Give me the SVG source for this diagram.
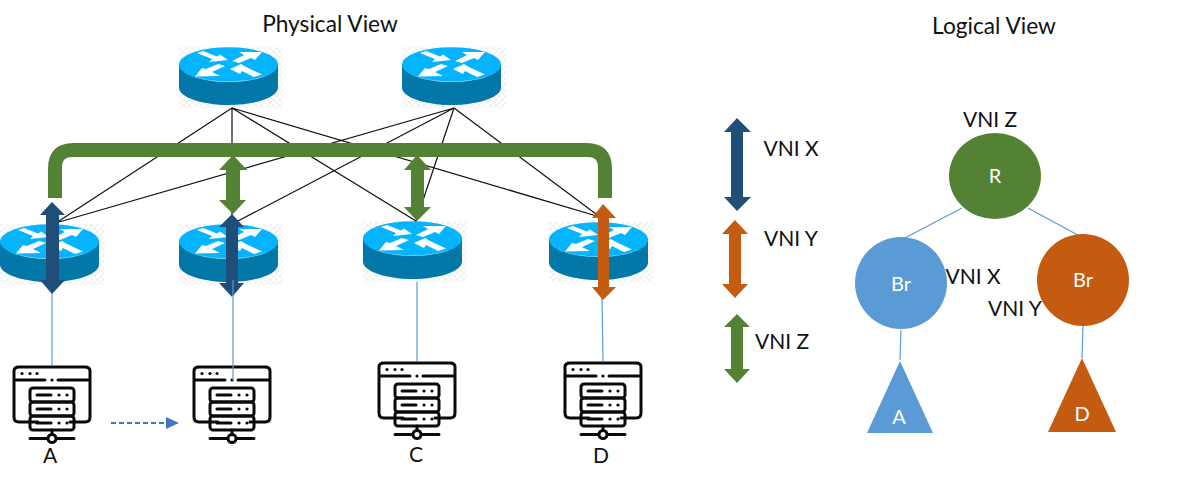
<svg xmlns="http://www.w3.org/2000/svg" width="1179" height="485" viewBox="0 0 1179 485">
<style>
text{font-family:Lato,"Liberation Sans",sans-serif;font-size:21px;fill:#111;text-anchor:middle}
.t{font-size:22.7px}
.w{fill:#fff;font-size:20px}
.blk{stroke:#111;stroke-width:1.2;fill:none}
.lb{stroke:#5b9bd5;stroke-width:1.2;fill:none}
.sv{fill:none;stroke:#0a0a0a;stroke-width:3;stroke-linecap:round}
.d{fill:#0a0a0a}
</style>
<defs>
<pattern id="chk" width="6" height="6" patternUnits="userSpaceOnUse"><rect width="6" height="6" fill="#fff"/><rect width="3" height="3" fill="#f3f3f3"/><rect x="3" y="3" width="3" height="3" fill="#f3f3f3"/></pattern>
<symbol id="router" width="104" height="61" viewBox="0 0 104 61" overflow="visible">
<rect width="104" height="61" fill="url(#chk)"/>
<path d="M0 17.500V40.500C0 50 22 58 49.500 58S99 50 99 40.500V17.500Z" fill="#0378a8"/>
<ellipse cx="49.500" cy="17.500" rx="49.500" ry="17.200" fill="#05b4ff"/>
<path d="M0 17.500C0 27 22 35 49.500 35S99 27 99 17.500C99 27 77 34.300 49.500 34.300S0 27 0 17.500Z" fill="#9fdcf5"/>
<g fill="#fff"><path d="M18 6L24 4 38 9.500 41 7.500 49 13 30 15 33 12Z"/><path d="M53 14L60 16 72 11 76 13 83 5 60 5 65 8Z"/><path d="M39 17L46 19 33 25 41 29 16 29.500 23 21 27 22Z"/><path d="M51 22L62 17 67 20 83 27.500 75 30 63 24 61 27Z"/></g>
</symbol>
<symbol id="server" width="80" height="82" viewBox="0 0 80 82" overflow="visible">
<path class="sv" d="M25 57H6Q1 57 1 52V6Q1 2 6 2H72Q77 2 77 6V52Q77 57 72 57H57"/>
<path class="sv" d="M2 15H32M45 15H76"/><circle class="d" cx="39" cy="15" r="1.600"/>
<circle class="d" cx="9" cy="8.500" r="1.600"/><circle class="d" cx="17" cy="8.500" r="1.600"/><circle class="d" cx="24" cy="8.500" r="1.600"/>
<rect class="sv" x="17" y="23" width="44" height="14" rx="3"/><rect class="sv" x="17" y="37" width="44" height="14" rx="3"/><rect class="sv" x="17" y="51" width="44" height="14" rx="3"/>
<path class="sv" d="M24 30H38M24 44H38M24 58H38"/>
<g class="d"><circle cx="46" cy="30" r="1.600"/><circle cx="54" cy="30" r="1.600"/><circle cx="46" cy="44" r="1.600"/><circle cx="54" cy="44" r="1.600"/><circle cx="46" cy="58" r="1.600"/><circle cx="54" cy="58" r="1.600"/></g>
<path class="sv" d="M39 65V70M17 73.500H34M44 73.500H61"/><circle cx="39" cy="73.500" r="4" fill="#fff" stroke="#0a0a0a" stroke-width="3"/>
</symbol>
</defs>
<rect width="1179" height="485" fill="#fff"/>
<g id="titles"><text class="t" x="330" y="32">Physical View</text><text class="t" x="994" y="34">Logical View</text></g>
<g id="spine1"><use href="#router" x="179" y="47"/></g>
<g id="spine2"><use href="#router" x="402" y="47"/></g>
<g id="leaf1"><use href="#router" x="0" y="224"/></g>
<g id="leaf2"><use href="#router" x="179" y="224"/></g>
<g id="leaf3"><use href="#router" x="363" y="221"/></g>
<g id="leaf4"><use href="#router" x="549" y="222"/></g>
<g id="serverA"><use href="#server" x="13" y="365"/><text x="50" y="463">A</text></g>
<g id="serverB"><use href="#server" x="193" y="365"/></g>
<g id="serverC"><use href="#server" x="378" y="361"/><text x="416" y="462">C</text></g>
<g id="serverD"><use href="#server" x="564" y="361"/><text x="601" y="463">D</text></g>
<g id="connectors">
<path class="blk" d="M232 108L59 221M232 108V224M232 108L416 221M232 108L600 217M454 108L59 222M454 108L236 222M454 108L416 221M454 108L600 217"/>
<path d="M55 198V168Q55 150 73 150H587Q605 150 605 168V198" fill="none" stroke="#548235" stroke-width="14"/>
<path class="lb" d="M52 293V365M417 282V361M602 295L603 361"/>
<path d="M111 423H166" stroke="#4472c4" stroke-width="2" stroke-dasharray="5 3" fill="none"/><path d="M166 417L179 423 166 429Z" fill="#4472c4"/>
<path d="M233 155L247 170H240V200H246L233 214 219 200H226V170H219Z" fill="#548235"/>
<path d="M417 155L431 170H424V207H431L417 221 404 207H411V170H404Z" fill="#548235"/>
<path d="M52 202L65 215H59V280H65L52 294 40 280H46V215H40Z" fill="#1f4e79"/>
<path d="M232 214L244 227H238V283H244L232 297 219 283H226V227H219Z" fill="#1f4e79"/>
<path d="M603 204L616 218H609V287H616L603 300 592 287H598V218H592Z" fill="#c55a11"/>
<path class="lb" d="M233 280V380"/>
<path class="lb" d="M962 208L901 240M1028 208L1085 239M901 330L900 360M1083 326L1082 358"/>
</g>
<g id="legendX"><path d="M737 118L751 132H743V197H751L737 211 724 197H731V132H724Z" fill="#1f4e79"/><text x="791" y="156">VNI X</text></g>
<g id="legendY"><path d="M735 220L748 234H741V284H748L735 298 722 284H729V234H722Z" fill="#c55a11"/><text x="791" y="246">VNI Y</text></g>
<g id="legendZ"><path d="M737 314L750 327H743V369H750L737 383 724 369H731V327H724Z" fill="#548235"/><text x="782" y="349">VNI Z</text></g>
<g id="nodeR"><ellipse cx="995" cy="176" rx="46" ry="43" fill="#548235"/><text class="w" x="995" y="183">R</text><text x="990" y="127">VNI Z</text></g>
<g id="nodeBr1"><ellipse cx="901" cy="283" rx="46" ry="46" fill="#5b9bd5"/><text class="w" x="901" y="291">Br</text><text x="973" y="284">VNI X</text></g>
<g id="nodeBr2"><ellipse cx="1083" cy="280" rx="46" ry="46" fill="#c55a11"/><text class="w" x="1083" y="287">Br</text><text x="1015" y="316">VNI Y</text></g>
<g id="nodeA"><path d="M900 361L933 433H867Z" fill="#5b9bd5"/><text class="w" x="899" y="424">A</text></g>
<g id="nodeD"><path d="M1082 358L1116 432H1048Z" fill="#c55a11"/><text class="w" x="1082" y="421">D</text></g>
</svg>
